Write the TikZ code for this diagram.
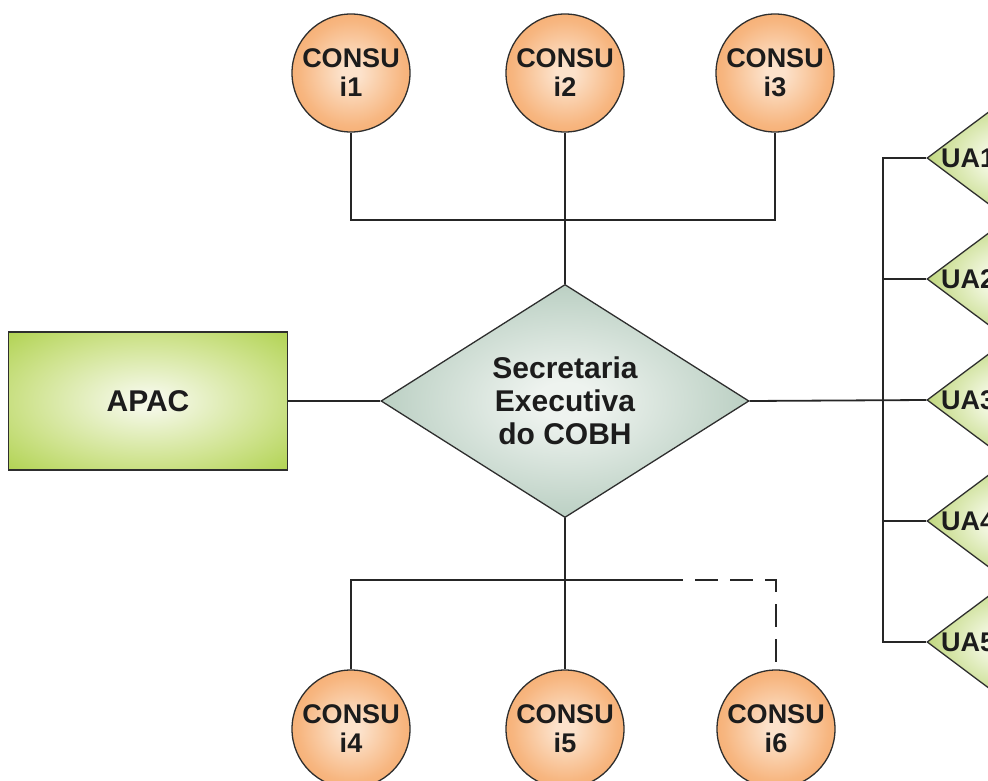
\documentclass[tikz,border=0pt]{standalone}
\usepackage{fontspec}
\setmainfont{Liberation Sans}
\usetikzlibrary{shapes.geometric}

% palette
\definecolor{linec}{HTML}{262626}
\definecolor{edgec}{HTML}{2E2E2E}
\definecolor{txt}{HTML}{1C1C1C}
\definecolor{orC}{HTML}{FCE2CB}
\definecolor{orM}{HTML}{F7B680}
\definecolor{orE}{HTML}{F2984C}
\definecolor{apC}{HTML}{F4F8E6}
\definecolor{apM}{HTML}{CFE38F}
\definecolor{apE}{HTML}{A3CB36}
\definecolor{seC}{HTML}{EEF3EF}
\definecolor{seE}{HTML}{A0BDAC}
\definecolor{uaC}{HTML}{F8FBEC}
\definecolor{uaE}{HTML}{A8C84E}

% soft radial fills
\pgfdeclareradialshading{orangeball}{\pgfpointorigin}{color(0bp)=(orC); color(4bp)=(orC); color(22bp)=(orM); color(42bp)=(orE); color(100bp)=(orE)}
\pgfdeclareradialshading{apacfill}{\pgfpointorigin}{color(0bp)=(apC); color(3bp)=(apC); color(22bp)=(apM); color(42bp)=(apE); color(100bp)=(apE)}
\pgfdeclareradialshading{secfill}{\pgfpointorigin}{color(0bp)=(seC); color(4bp)=(seC); color(36bp)=(seE); color(100bp)=(seE)}
\pgfdeclareradialshading{uafill}{\pgfpointorigin}{color(0bp)=(uaC); color(5bp)=(uaC); color(34bp)=(uaE); color(100bp)=(uaE)}

\tikzset{
  link/.style={line width=1.8pt, draw=linec},
  optlink/.style={link, dash pattern=on 23pt off 12pt, dash phase=23pt},
  consu/.style={circle, draw=edgec, line width=1.3pt, shading=orangeball,
    minimum size=118pt, inner sep=0pt, align=center, text=txt,
    font=\fontsize{27}{29}\selectfont\bfseries},
  apacbox/.style={rectangle, draw=edgec, line width=1.3pt, shading=apacfill,
    minimum width=279pt, minimum height=138pt, inner sep=0pt, text=txt,
    font=\fontsize{30}{33}\selectfont\bfseries},
  secdia/.style={diamond, draw=edgec, line width=1.3pt, shading=secfill,
    minimum width=368pt, minimum height=227pt, inner sep=0pt, align=center, text=txt,
    font=\fontsize{30}{33}\selectfont\bfseries},
  uadia/.style={diamond, draw=edgec, line width=1.3pt, shading=uafill,
    minimum width=160pt, minimum height=120pt, inner sep=0pt},
  ualabel/.style={anchor=west, inner sep=0pt, text=txt,
    font=\fontsize{27}{27}\selectfont\bfseries},
}

\begin{document}
\begin{tikzpicture}[x=1pt, y=-1pt]
  \useasboundingbox (0,0) rectangle (988,781);
  \clip (0,0) rectangle (988,781);

  % central secretariat and the agency
  \node[secdia] (sec) at (565,401) {Secretaria\\Executiva\\do COBH};
  \node[apacbox] (apac) at (148,401) {APAC};

  % upper councils
  \node[consu] (c1) at (351,73) {CONSU\\i1};
  \node[consu] (c2) at (565,73) {CONSU\\i2};
  \node[consu] (c3) at (775,73) {CONSU\\i3};

  % lower councils
  \node[consu] (c4) at (351,729) {CONSU\\i4};
  \node[consu] (c5) at (565,729) {CONSU\\i5};
  \node[consu] (c6) at (776,729) {CONSU\\i6};

  % units on the right edge
  \foreach \i/\y in {1/158, 2/279, 3/400, 4/521, 5/642} {
    \node[uadia] (ua\i) at (1007,\y) {};
    \node[ualabel] (ua\i t) at (941,\y) {UA\i};
  }

  % junction points
  \coordinate (topbus) at (565,220);
  \coordinate (dashstart) at (683,580);
  \coordinate (rbus) at (883,400);

  % upper tree
  \draw[link] (c1.south) |- (topbus) -| (c3.south);
  \draw[link] (c2.south) -- (sec.north);

  % horizontal links
  \draw[link] (apac.east) -- (sec.west);
  \draw[link] (sec.east) -- (ua3.west);

  % right-hand bus
  \draw[link] (ua1.west) -| (rbus) |- (ua5.west);
  \draw[link] (ua2.west) -- (ua2.west -| rbus);
  \draw[link] (ua4.west) -- (ua4.west -| rbus);

  % lower tree
  \draw[link] (sec.south) -- (c5.north);
  \draw[link] (c4.north) |- (dashstart);
  \draw[optlink] (dashstart) -| (c6.north);
\end{tikzpicture}
\end{document}
